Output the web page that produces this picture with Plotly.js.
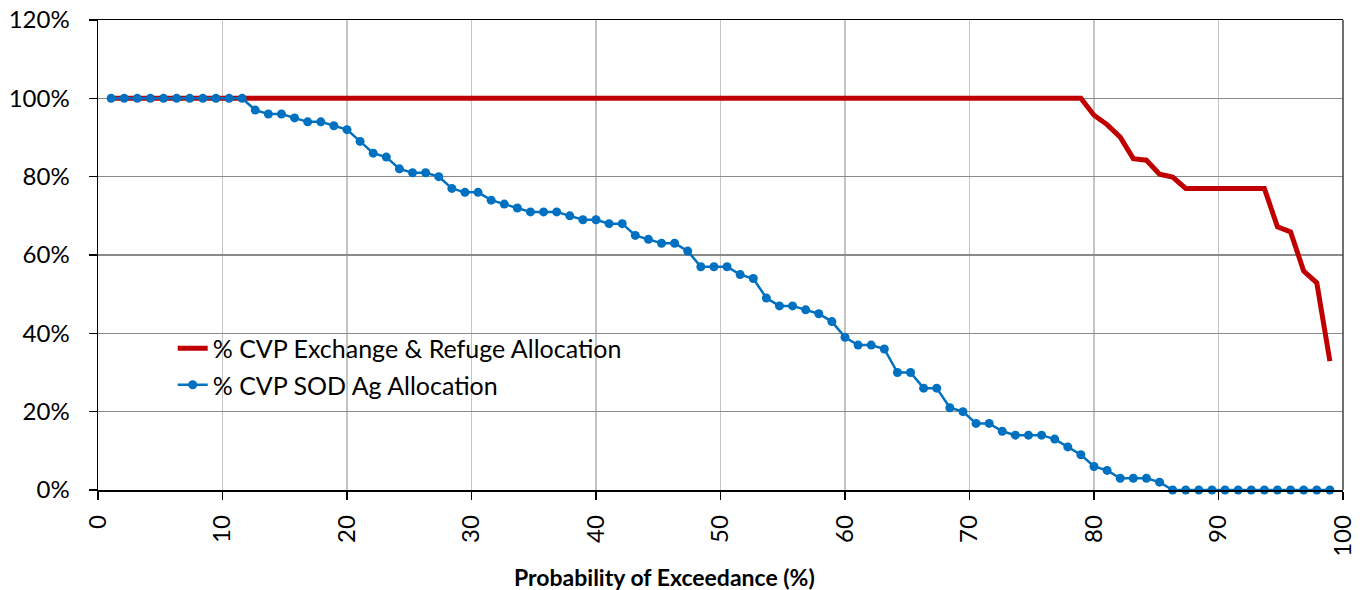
<!DOCTYPE html>
<html>
<head>
<meta charset="utf-8">
<script src="https://cdn.plot.ly/plotly-3.0.1.min.js"></script>
<style>html,body{margin:0;padding:0;background:#fff;}#chart{width:1366px;height:590px;}</style>
</head>
<body>
<div id="chart"></div>
<script>
// 94 ranked years, plotting position i/(n+1)
const nYears = 94;
const exchangeRefugePct = [
  100,100,100,100,100,100,100,100,100,100,
  100,100,100,100,100,100,100,100,100,100,
  100,100,100,100,100,100,100,100,100,100,
  100,100,100,100,100,100,100,100,100,100,
  100,100,100,100,100,100,100,100,100,100,
  100,100,100,100,100,100,100,100,100,100,
  100,100,100,100,100,100,100,100,100,100,
  100,100,100,100,100,
  95.7,93.3,90.1,84.6,84.2,80.6,79.9,
  77,77,77,77,77,77,77,
  67.2,65.9,55.9,52.9,32.9
];
const sodAgPct = [
  100,100,100,100,100,100,100,100,100,100,100,
  97,96,96,95,94,94,93,92,89,86,
  85,82,81,81,80,77,76,76,74,73,
  72,71,71,71,70,69,69,68,68,65,
  64,63,63,61,57,57,57,55,54,49,
  47,47,46,45,43,39,37,37,36,30,
  30,26,26,21,20,17,17,15,14,14,
  14,13,11,9,6,5,3,3,3,2,
  0,0,0,0,0,0,0,0,0,0,0,0,0
];
const xTickVals = [0,10,20,30,40,50,60,70,80,90,100];
const yTickVals = [0,0.2,0.4,0.6,0.8,1.0,1.2];
const seriesNames = ['% CVP Exchange & Refuge Allocation', '% CVP SOD Ag Allocation'];
const xTitle = 'Probability of Exceedance (%)';

const exceedance = [];
for (let i = 1; i <= nYears; i++) exceedance.push(i / (nYears + 1) * 100);

const FONT = 'Lato, "Open Sans", sans-serif';

const traces = [
  {
    x: exceedance, y: exchangeRefugePct.map(v => v / 100),
    type: 'scatter', mode: 'lines', name: seriesNames[0],
    line: {color: '#C00000', width: 5},
    legendgroup: 'a', cliponaxis: false
  },
  {
    x: exceedance, y: sodAgPct.map(v => v / 100),
    type: 'scatter', mode: 'lines+markers', name: seriesNames[1],
    line: {color: '#0070C0', width: 2.5},
    marker: {color: '#0070C0', size: 9},
    legendgroup: 'b', cliponaxis: false
  }
];

const layout = {
  width: 1366, height: 590,
  margin: {l: 98, r: 23, t: 20, b: 100},
  paper_bgcolor: '#fff', plot_bgcolor: '#fff',
  font: {family: FONT, size: 24, color: '#000'},
  showlegend: true,
  legend: {
    x: 0.060, y: 0.35, xanchor: 'left', yanchor: 'top',
    bgcolor: 'rgba(0,0,0,0)', borderwidth: 0,
    font: {family: FONT, size: 25, color: '#000'},
    traceorder: 'grouped', tracegroupgap: 1, itemwidth: 30
  },
  xaxis: {
    range: [0, 100], tickvals: xTickVals, ticktext: xTickVals.map(String),
    tickangle: -90, ticks: 'outside', ticklen: 8, tickcolor: '#000', tickwidth: 1.5,
    showline: true, linecolor: '#000', linewidth: 1.5, mirror: true,
    showgrid: true, gridcolor: '#C4C4C4', gridwidth: 1.5,
    zeroline: false, ticklabelstandoff: 6,
    tickfont: {family: FONT, size: 24, color: '#000'}
  },
  yaxis: {
    range: [0, 1.2], tickvals: yTickVals, tickformat: '.0%',
    ticks: 'outside', ticklen: 8, tickcolor: '#000', tickwidth: 1.5,
    showline: true, linecolor: '#000', linewidth: 1.5,
    showgrid: true, gridcolor: '#8A8A8A', gridwidth: 1.5,
    zeroline: false, ticklabelstandoff: 14,
    tickfont: {family: FONT, size: 24, color: '#000'}
  },
  shapes: [
    {type: 'line', xref: 'paper', yref: 'paper', x0: 1, x1: 1, y0: 0, y1: 1,
     line: {color: '#404040', width: 1.5}}
  ],
  annotations: [
    {text: '<b>' + xTitle + '</b>', xref: 'paper', yref: 'paper',
     x: 0.455, y: -0.185, xanchor: 'center', yanchor: 'middle', showarrow: false,
     font: {family: FONT, size: 23, color: '#000'}}
  ]
};

Plotly.newPlot('chart', traces, layout, {displayModeBar: false, staticPlot: true});
</script>
</body>
</html>
